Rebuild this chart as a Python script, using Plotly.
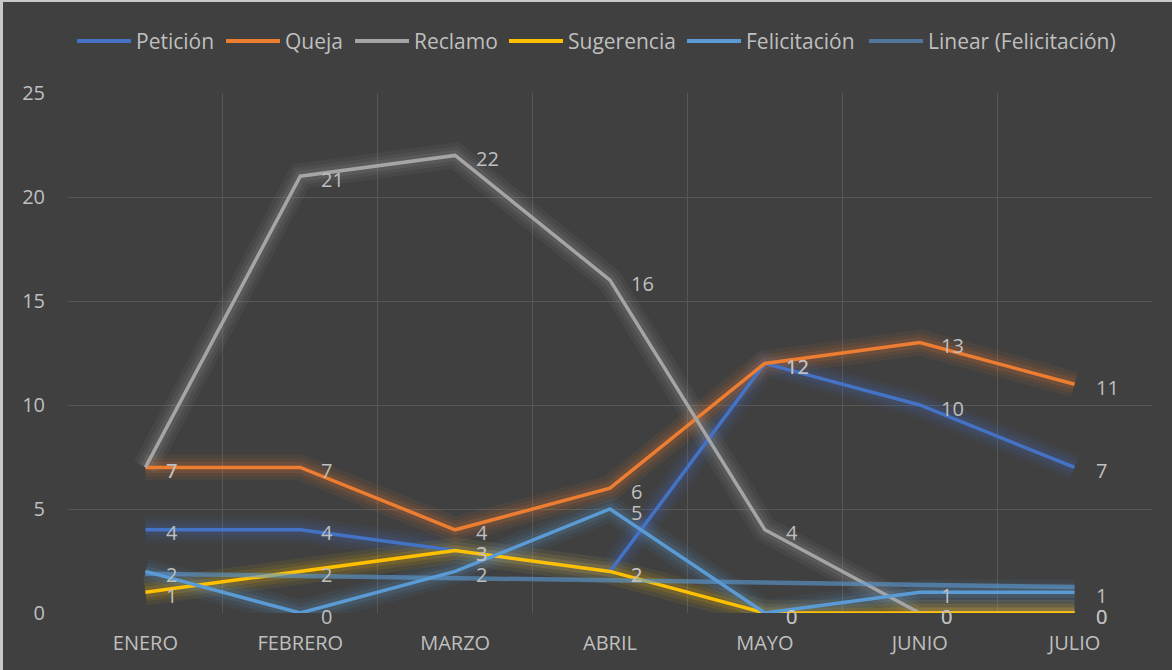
import numpy as np
import plotly.graph_objects as go

months = ["ENERO", "FEBRERO", "MARZO", "ABRIL", "MAYO", "JUNIO", "JULIO"]
peticion = [4, 4, 3, 2, 12, 10, 7]
queja = [7, 7, 4, 6, 12, 13, 11]
reclamo = [7, 21, 22, 16, 4, 0, 0]
sugerencia = [1, 2, 3, 2, 0, 0, 0]
felicitacion = [2, 0, 2, 5, 0, 1, 1]

series = [
    ("Petición", peticion, "#4472C4"),
    ("Queja", queja, "#ED7D31"),
    ("Reclamo", reclamo, "#A5A5A5"),
    ("Sugerencia", sugerencia, "#FFC000"),
    ("Felicitación", felicitacion, "#5B9BD5"),
]
trend_name = "Linear (Felicitación)"
trend_color = "rgba(91,155,213,0.6)"
trend_legend_color = "#52779C"

# Linear trendline of Felicitación (least squares, as the spreadsheet trendline)
xi = np.arange(1, len(months) + 1)
slope, intercept = np.polyfit(xi, felicitacion, 1)
trend = list(slope * xi + intercept)

BG = "#404040"
TXT = "#BFBFBF"
FONT = "Open Sans, Liberation Sans, sans-serif"
W, H = 1172, 670
ML, MR, MT, MB = 68, 20, 93, 57
PW, PH = W - ML - MR, H - MT - MB


def px_x(p):
    return (p - ML) / PW


def px_y(p):
    return (H - MB - p) / PH


fig = go.Figure()

# glow layers
for name, vals, col in series:
    r, g, b = int(col[1:3], 16), int(col[3:5], 16), int(col[5:7], 16)
    for w, a in [(26, 0.07), (18, 0.09), (11, 0.13)]:
        fig.add_trace(go.Scatter(
            x=months, y=vals, mode="lines", showlegend=False, hoverinfo="skip",
            line=dict(color=f"rgba({r},{g},{b},{a})", width=w),
        ))

for name, vals, col in series:
    fig.add_trace(go.Scatter(
        x=months, y=vals, name=name, mode="lines", showlegend=False,
        line=dict(color=col, width=3.5),
    ))

fig.add_trace(go.Scatter(
    x=months, y=trend, name=trend_name, mode="lines", showlegend=False,
    line=dict(color=trend_color, width=4.5),
))

# data labels
annotations = []
for name, vals, col in series:
    for m, v in zip(months, vals):
        annotations.append(dict(
            x=m, y=v, xref="x", yref="y", text=str(v), showarrow=False,
            xanchor="left", yanchor="middle", xshift=19, yshift=-3,
            font=dict(size=20, color=TXT, family=FONT),
        ))

# legend (drawn manually to match the spreadsheet layout)
legend_entries = [(n, c) for n, _, c in series] + [(trend_name, trend_legend_color)]
legend_line_starts = [77, 226, 355, 509, 687, 869]
shapes = []
ly = px_y(41)
for (n, c), x0 in zip(legend_entries, legend_line_starts):
    shapes.append(dict(type="line", xref="paper", yref="paper",
                       x0=px_x(x0), x1=px_x(x0 + 54), y0=ly, y1=ly,
                       line=dict(color=c, width=4)))
    annotations.append(dict(
        x=px_x(x0 + 57), y=ly, xref="paper", yref="paper", text=n, showarrow=False,
        xanchor="left", yanchor="middle", font=dict(size=21, color=TXT, family=FONT),
    ))

# light frame on top and left edges
shapes.append(dict(type="line", xref="paper", yref="paper", x0=px_x(0), x1=px_x(W),
                   y0=px_y(1), y1=px_y(1), line=dict(color="#C8C8C8", width=2)))
shapes.append(dict(type="line", xref="paper", yref="paper", x0=px_x(1.5), x1=px_x(1.5),
                   y0=px_y(0), y1=px_y(H), line=dict(color="#C8C8C8", width=3)))

fig.update_layout(
    width=W, height=H,
    paper_bgcolor=BG, plot_bgcolor=BG,
    margin=dict(l=ML, r=MR, t=MT, b=MB),
    font=dict(family=FONT, color=TXT, size=20),
    showlegend=False,
    annotations=annotations,
    shapes=shapes,
)
fig.update_xaxes(
    type="category", range=[-0.5, 6.5], tickson="boundaries",
    showgrid=True, gridcolor="#575757", gridwidth=1, ticks="",
    showline=False, zeroline=False, tickfont=dict(size=20, color=TXT),
    ticklabelstandoff=16,
)
fig.update_yaxes(
    range=[0, 25], dtick=5, showgrid=True, gridcolor="#575757", gridwidth=1,
    zeroline=False, showline=False, tickfont=dict(size=20, color=TXT),
    ticklabelstandoff=22,
)

fig.write_html("out.html", config={"displayModeBar": False},
               post_script="document.body.style.margin='0';")
